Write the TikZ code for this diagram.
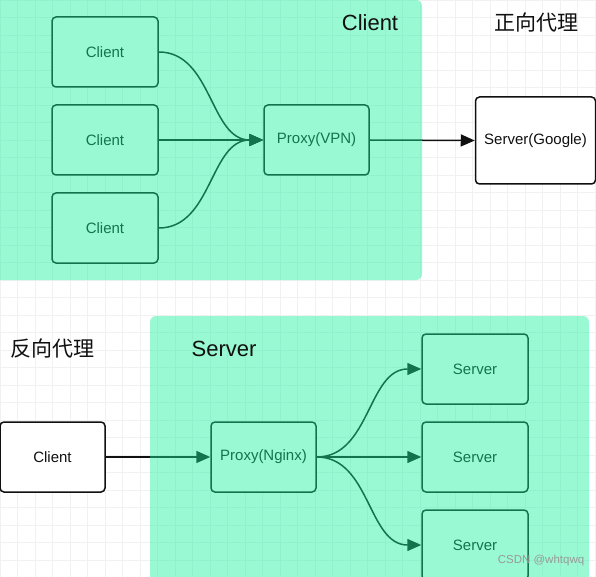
\documentclass[tikz,border=0pt]{standalone}
\usepackage{fontspec}
\setmainfont{Liberation Sans}
\newfontfamily\cjk{Noto Sans CJK SC}
\usetikzlibrary{arrows.meta}
\definecolor{mint}{HTML}{19F39D}
\definecolor{gridc}{HTML}{F1F1F1}
\definecolor{ink}{HTML}{101010}
\begin{document}
\begin{tikzpicture}[x=1pt,y=-1pt,
  box/.style={draw=ink, line width=1.5pt, rounded corners=4pt, fill=white,
    minimum width=106pt, minimum height=70pt, inner sep=0pt,
    font=\fontsize{15}{18}\selectfont, text=ink},
  link/.style={draw=ink, line width=1.5pt, -{Triangle[length=14pt,width=12pt]}},
  title/.style={font=\fontsize{22}{26}\selectfont, text=ink},
  cjktitle/.style={font=\cjk\fontsize{21}{25}\selectfont, text=ink},
  zone/.style={fill=mint, fill opacity=0.44, rounded corners=6pt}
]
\useasboundingbox (0,0) rectangle (596,577);
\fill[white] (0,0) rectangle (596,577);
\foreach \i in {0,...,34} \draw[gridc, line width=0.8pt] (\i*17.5,0) -- (\i*17.5,577);
\foreach \i in {0,...,33} \draw[gridc, line width=0.8pt] (0,\i*17.5) -- (596,\i*17.5);

% forward proxy
\node[box] (c1) at (105,52) {Client};
\node[box] (c2) at (105,140) {Client};
\node[box] (c3) at (105,228) {Client};
\node[box, minimum width=105pt] (vpn) at (316.5,140) {Proxy(VPN)};
\node[box, minimum width=120pt, minimum height=87pt] (google) at (535.5,140.5) {Server(Google)};
\draw[link] (c1.east) to[out=0,in=180] (vpn.west);
\draw[link] (c2.east) -- (vpn.west);
\draw[link] (c3.east) to[out=0,in=180] (vpn.west);
\draw[link] (vpn.east) -- (google.west);

% reverse proxy
\node[box, minimum width=105pt] (cl) at (52.5,457) {Client};
\node[box, minimum width=105pt] (ngx) at (263.5,457) {Proxy(Nginx)};
\node[box] (s1) at (475,369) {Server};
\node[box] (s2) at (475,457) {Server};
\node[box] (s3) at (475,545) {Server};
\draw[link] (cl.east) -- (ngx.west);
\draw[link] (ngx.east) to[out=0,in=180] (s1.west);
\draw[link] (ngx.east) -- (s2.west);
\draw[link] (ngx.east) to[out=0,in=180] (s3.west);

% translucent zones
\fill[zone] (-10,0) rectangle (422,280);
\fill[zone] (150,316) rectangle (589,595);

% titles
\node[title] (tclient) at (370,23) {Client};
\node[cjktitle] (tfwd) at (536,23) {正向代理};
\node[cjktitle] (trev) at (52,349) {反向代理};
\node[title] (tserver) at (224,349) {Server};

\node[text=black!40, font=\fontsize{11.5}{13}\selectfont] (wm) at (541,561) {CSDN @whtqwq};
\end{tikzpicture}
\end{document}
